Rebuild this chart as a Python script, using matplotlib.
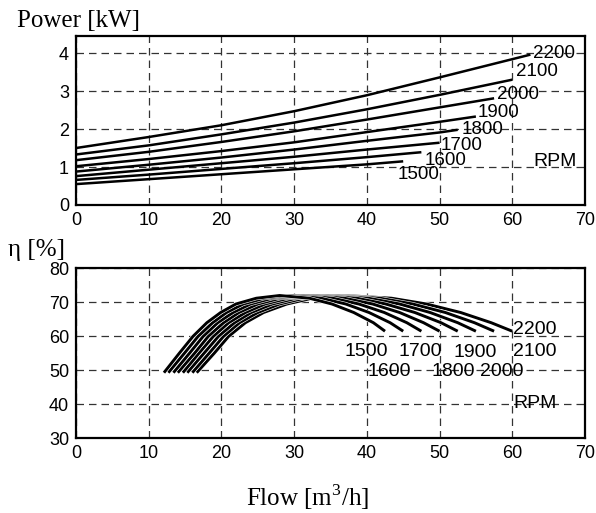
import numpy as np
import matplotlib
matplotlib.use("Agg")
import matplotlib.pyplot as plt
import matplotlib.patheffects as pe

# pump curves: shaft power and efficiency vs flow for several speeds
rpm = [1500, 1600, 1700, 1800, 1900, 2000, 2100, 2200]

# power [kW] at these flows
power_flow = [
    [0, 10, 20, 30, 40, 45.0],
    [0, 10, 20, 30, 40, 47.5],
    [0, 10, 20, 30, 40, 50.0],
    [0, 10, 20, 30, 40, 50, 52.5],
    [0, 10, 20, 30, 40, 50, 55.0],
    [0, 10, 20, 30, 40, 50, 57.5],
    [0, 10, 20, 30, 40, 50, 60.0],
    [0, 10, 20, 30, 40, 50, 60, 62.5],
]
power_kw = [
    [0.55, 0.68, 0.81, 0.94, 1.07, 1.15],
    [0.66, 0.80, 0.95, 1.10, 1.26, 1.39],
    [0.76, 0.93, 1.10, 1.27, 1.46, 1.64],
    [0.88, 1.06, 1.25, 1.46, 1.69, 1.91, 1.98],
    [1.02, 1.21, 1.42, 1.65, 1.92, 2.19, 2.33],
    [1.18, 1.40, 1.66, 1.94, 2.25, 2.57, 2.81],
    [1.33, 1.57, 1.86, 2.17, 2.52, 2.90, 3.30],
    [1.50, 1.79, 2.10, 2.47, 2.89, 3.36, 3.84, 3.96],
]

# efficiency [%]: flow where each curve passes these levels
eta_levels = [49.3, 55, 60, 64, 67, 69.5, 71.2, 72.0, 71.2, 69.5, 67, 64, 61.5]
eta_flow = [
    [12.1, 14.2, 16.1, 18.0, 19.9, 22.0, 24.8, 28.0, 32.1, 35.2, 38.2, 40.9, 42.5],
    [12.7, 14.9, 16.8, 18.8, 20.7, 23.0, 25.9, 29.3, 33.7, 37.1, 40.3, 43.2, 45.0],
    [13.4, 15.6, 17.5, 19.5, 21.6, 24.0, 27.0, 30.6, 35.3, 38.9, 42.4, 45.5, 47.5],
    [14.0, 16.3, 18.2, 20.3, 22.4, 25.0, 28.1, 31.9, 36.9, 40.8, 44.5, 47.8, 50.0],
    [14.7, 16.9, 18.9, 21.0, 23.3, 26.0, 29.2, 33.1, 38.6, 42.6, 46.6, 50.2, 52.5],
    [15.3, 17.6, 19.6, 21.8, 24.1, 27.0, 30.3, 34.4, 40.2, 44.5, 48.7, 52.5, 55.0],
    [16.0, 18.3, 20.3, 22.5, 25.0, 28.0, 31.4, 35.7, 41.8, 46.3, 50.8, 54.8, 57.5],
    [16.6, 19.0, 21.0, 23.3, 25.8, 29.0, 32.5, 37.0, 43.4, 48.2, 52.9, 57.1, 60.0],
]

# label positions (x, y) for the rpm texts
power_lbl = [(44.3, 0.80), (48.0, 1.18), (50.1, 1.57), (53.0, 1.99),
             (55.3, 2.43), (57.9, 2.92), (60.5, 3.51), (62.9, 4.00)]
eta_lbl = [(39.9, 55.5), (43.1, 49.6), (47.3, 55.5), (51.9, 49.6),
           (54.9, 55.2), (58.5, 49.6), (60.1, 55.5), (60.1, 61.9)]

sans = ["Liberation Sans", "DejaVu Sans"]
serif = ["Liberation Serif", "DejaVu Serif"]

fig = plt.figure(figsize=(5.96, 5.13), dpi=100)
ax1 = fig.add_axes([0.1275, 0.6004, 0.854, 0.3294])
ax2 = fig.add_axes([0.1275, 0.1456, 0.854, 0.3314])

ax1.set_ylim(0, 4.45)
ax1.set_yticks([0, 1, 2, 3, 4])
ax2.set_ylim(30, 80)
ax2.set_yticks(range(30, 81, 10))

for ax in (ax1, ax2):
    ax.set_xlim(0, 70)
    ax.set_xticks(range(0, 71, 10))
    ax.grid(True, color="#333333", linestyle=(0, (6, 4)), linewidth=0.9)
    ax.tick_params(length=0, labelsize=13, pad=5)
    for lab in ax.get_xticklabels() + ax.get_yticklabels():
        lab.set_family(sans)
    for sp in ax.spines.values():
        sp.set_linewidth(1.6)

for x, y in zip(power_flow, power_kw):
    ax1.plot(x, y, color="black", linewidth=1.8, solid_capstyle="butt")

for x in eta_flow[::-1]:
    ax2.plot(x, eta_levels, color="black", linewidth=2.1,
             solid_capstyle="butt", solid_joinstyle="round",
             path_effects=[pe.Stroke(linewidth=2.9, foreground="white"), pe.Normal()])

for r, (x, y) in zip(rpm, power_lbl):
    ax1.text(x, y, str(r), fontsize=13.5, family=sans, va="center", ha="left")
ax1.text(62.9, 1.14, "RPM", fontsize=14, family=sans, va="center", ha="left")

for r, (x, y) in zip(rpm, eta_lbl):
    ha = "left" if r >= 2100 else "center"
    ax2.text(x, y, str(r), fontsize=14, family=sans, va="center", ha=ha)
ax2.text(60.1, 40.1, "RPM", fontsize=14, family=sans, va="center", ha="left")

fig.text(17 / 596, 1 - 21 / 513, "Power [kW]", fontsize=18, family=serif,
         ha="left", va="center")
fig.text(8 / 596, 1 - 250 / 513, "\u03b7 [%]", fontsize=18, family=serif,
         ha="left", va="center")
fig.text(308 / 596, 1 - 497 / 513, "Flow [m$^{\\mathregular{3}}$/h]", fontsize=18,
         family=serif, ha="center", va="center")

fig.savefig("out.png", dpi=100)
